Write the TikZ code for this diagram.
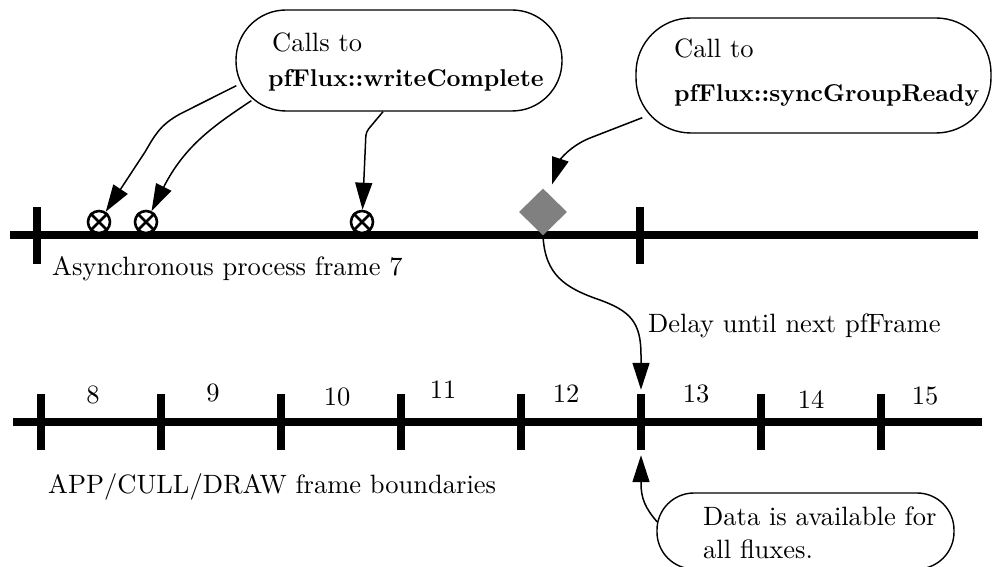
\documentclass[tikz,border=0pt]{standalone}
\usepackage{fontspec}
\setmainfont{lmroman10-regular.otf}[BoldFont=lmroman10-bold.otf,ItalicFont=lmroman10-italic.otf]
\usetikzlibrary{shapes.geometric,arrows.meta}
\begin{document}
\begin{tikzpicture}[x=1pt,y=-1pt,
  txt/.style={font=\fontsize{26.5}{30}\selectfont, inner sep=0pt, anchor=base west},
  btxt/.style={font=\fontsize{24.3}{28}\selectfont\bfseries, inner sep=0pt, anchor=base west},
  num/.style={font=\fontsize{26.5}{30}\selectfont, inner sep=0pt, anchor=base},
  bubble/.style={draw, line width=1.4pt, rounded corners=#1, inner sep=0pt},
  bubble/.default=40pt,
  tickmark/.style={fill=black, inner sep=0pt, minimum width=8pt, minimum height=56pt},
  xmark/.style={circle, draw, line width=2.6pt, fill=white, inner sep=0pt, minimum size=22pt},
  conn/.style={line width=1.5pt, -{Triangle[length=27pt,width=17pt]}},
  timeline/.style={line width=8pt}
]
\useasboundingbox (0,0) rectangle (997,567);

% top timeline
\draw[timeline] (10,235.5) -- (978,235.5);
\node[tickmark] (a1) at (37,235.5) {};
\node[tickmark] (a2) at (640,235.5) {};

% bottom timeline
\draw[timeline] (13,422) -- (982,422);
\foreach \i/\x in {1/41,2/161,3/281,4/401,5/521,6/641,7/761,8/881}
  \node[tickmark] (b\i) at (\x,422) {};

% frame numbers
\node[num] (n8)  at (93,403)  {8};
\node[num] (n9)  at (213,401) {9};
\node[num] (n10) at (337,405) {10};
\node[num] (n11) at (443,398) {11};
\node[num] (n12) at (566,402) {12};
\node[num] (n13) at (696,402) {13};
\node[num] (n14) at (811,408) {14};
\node[num] (n15) at (925,404) {15};

% markers
\foreach \n/\x in {m1/99,m2/146,m3/362}{
  \node[xmark] (\n) at (\x,222) {};
  \draw[line width=2.6pt] (\n.north east) -- (\n.south west)
                          (\n.north west) -- (\n.south east);
}
\node[diamond, fill=gray, inner sep=0pt, minimum width=48pt, minimum height=47pt] (d) at (543,212) {};

% bubbles
\node[bubble=50pt, minimum width=326pt, minimum height=101pt] (box1) at (399,60.5) {};
\node[bubble=55pt, minimum width=355pt, minimum height=115pt] (box2) at (813.5,75.5) {};
\node[bubble=37pt, minimum width=297pt, minimum height=76pt] (data) at (805.5,531) {};

% texts
\node[txt]  (c1a) at (272,52)  {Calls to};
\node[btxt] (c1b) at (268,87)  {pfFlux::writeComplete};
\node[txt]  (c2a) at (674,58)  {Call to};
\node[btxt] (c2b) at (674,102) {pfFlux::syncGroupReady};
\node[txt]  (async) at (52,275) {Asynchronous process frame 7};
\node[txt]  (delay) at (648,332) {Delay until next pfFrame};
\node[txt]  (app) at (48,493) {APP/CULL/DRAW frame boundaries};
\node[txt]  (da1) at (703,525) {Data is available for};
\node[txt]  (da2) at (703,558) {all fluxes.};

% connectors
\draw[conn] ([shift={(1,-26)}]box1.south west) -- (180,114)
   .. controls (160,125) and (155,135) .. (145,152) -- (m1);
\draw[conn] ([shift={(16,-11)}]box1.south west)
   .. controls (215,125) and (185,145) .. (m2);
\draw[conn, rounded corners=4pt] ([xshift=-16pt]box1.south) -- (366,132) -- (m3);
\draw[conn, shorten >=10pt] ([shift={(7,-16)}]box2.south west) -- (590,138)
   .. controls (570,146) and (560,160) .. (d);
\draw[conn, shorten >=4pt] (d.south) .. controls (545,275) and (565,288) .. (600,300)
   .. controls (630,311) and (641,322) .. (641,355) -- (b6.north);
\draw[conn, shorten >=5pt] ([shift={(1,-9)}]data.west)
   .. controls (645,508) and (641,498) .. (641,483) -- (b6.south);
\end{tikzpicture}
\end{document}
